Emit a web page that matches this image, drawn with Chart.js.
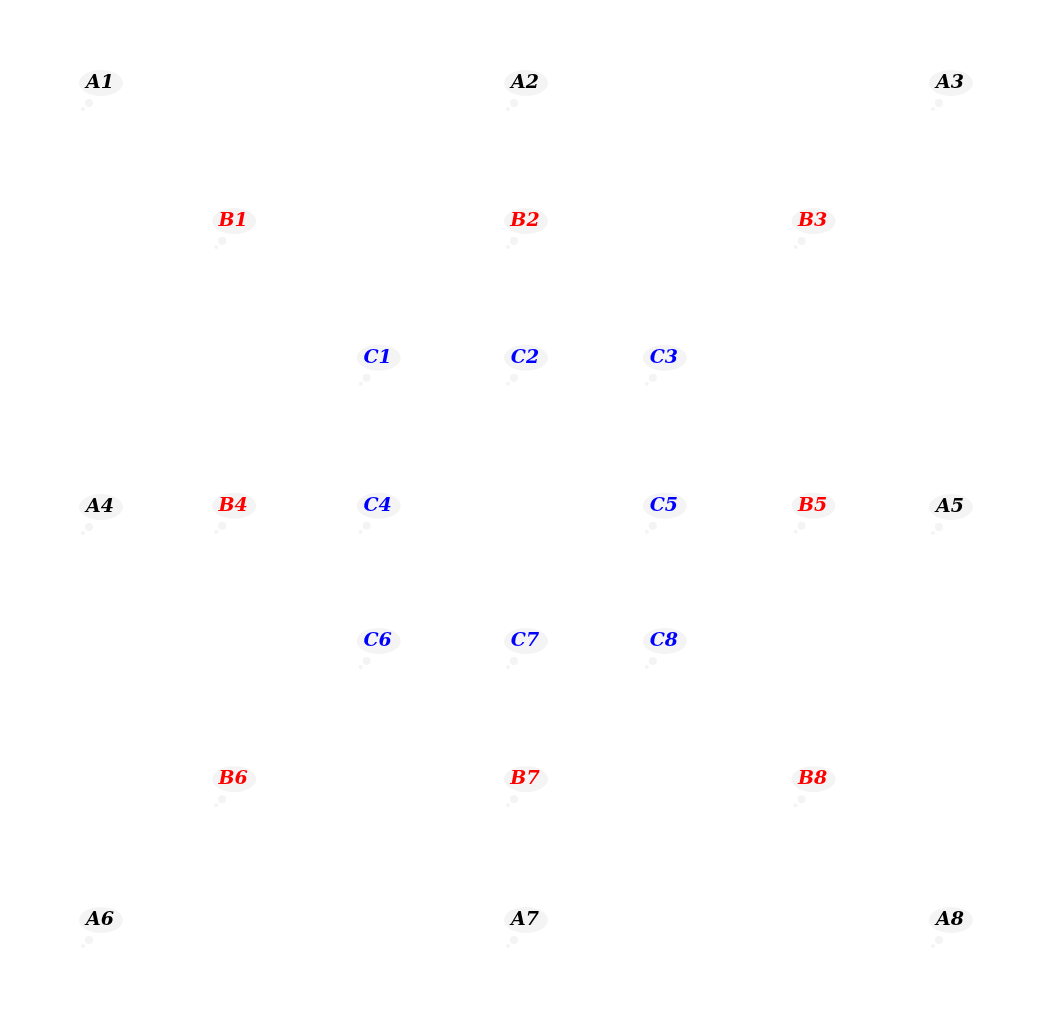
<!DOCTYPE html>
<html><head><meta charset="utf-8">
<script src="https://cdn.jsdelivr.net/npm/chart.js@4"></script>
<style>html,body{margin:0;background:#fff}#wrap{width:1046px;height:1028px}</style>
</head><body><div id="wrap"><canvas id="c"></canvas></div>
<script>
// board points (grid units 0..6)
const labels = ['A1','A2','A3','A4','A5','A6','A7','A8',
                'B1','B2','B3','B4','B5','B6','B7','B8',
                'C1','C2','C3','C4','C5','C6','C7','C8'];
const xs = [0,3,6,0,6,0,3,6, 0.94,3,5.03,0.94,5.03,0.94,3,5.03, 1.96,3,3.98,1.96,3.98,1.96,3,3.98];
const ys = [0,0,0,3.04,3.04,6,6,6, 0.99,0.99,0.99,3.03,3.03,4.99,4.99,4.99, 1.97,1.97,1.97,3.03,3.03,4.0,4.0,4.0];
const ringColors = {A:'#000000', B:'#ff0000', C:'#0000ff'};

const cloudLabels = {
  id:'cloudLabels',
  afterDatasetsDraw(chart){
    const ctx = chart.ctx;
    chart.getDatasetMeta(0).data.forEach((pt,i)=>{
      const x = pt.x, y = pt.y;
      ctx.save();
      ctx.fillStyle = '#f4f4f4';
      ctx.beginPath(); ctx.ellipse(x+1, y, 22, 13, 0, 0, Math.PI*2); ctx.fill();
      ctx.beginPath(); ctx.arc(x-11, y+20, 4, 0, Math.PI*2); ctx.fill();
      ctx.beginPath(); ctx.arc(x-17, y+26, 2, 0, Math.PI*2); ctx.fill();
      ctx.fillStyle = ringColors[labels[i][0]];
      ctx.font = 'italic bold 19px "DejaVu Serif"';
      ctx.textAlign = 'center'; ctx.textBaseline = 'middle';
      ctx.fillText(labels[i], x, y);
      ctx.restore();
    });
  }
};

new Chart(document.getElementById('c'), {
  type:'scatter',
  data:{ datasets:[{ data: xs.map((x,i)=>({x:x, y:ys[i]})), pointRadius:0 }] },
  options:{
    responsive:true, maintainAspectRatio:false, animation:false,
    layout:{padding:0},
    plugins:{legend:{display:false}, tooltip:{enabled:false}},
    scales:{
      x:{type:'linear', min:-0.706, max:6.678, display:false},
      y:{type:'linear', reverse:true, min:-0.595, max:6.774, display:false}
    }
  },
  plugins:[cloudLabels]
});
</script></body></html>
